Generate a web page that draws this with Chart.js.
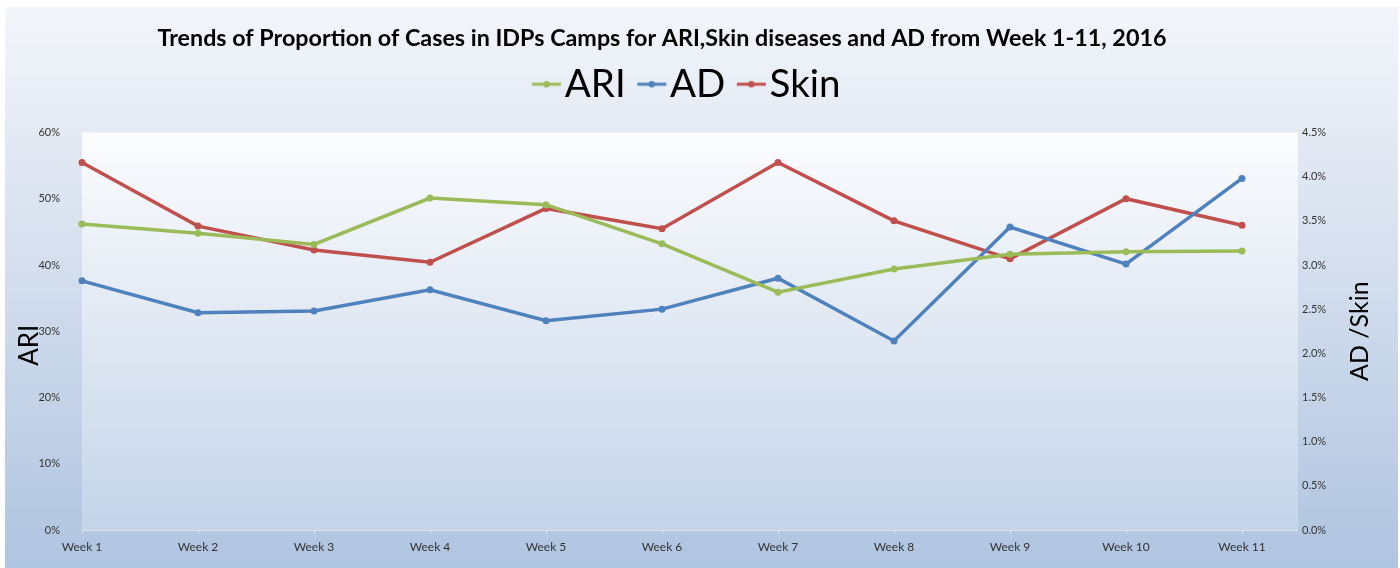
<!DOCTYPE html>
<html>
<head>
<meta charset="utf-8">
<script src="https://cdn.jsdelivr.net/npm/chart.js@4/dist/chart.umd.min.js"></script>
<style>
  html, body { margin: 0; padding: 0; background: #ffffff; }
  #wrap { width: 1400px; height: 568px; position: relative; }
</style>
</head>
<body>
<div id="wrap"><canvas id="c" width="1400" height="568"></canvas></div>
<script>
// ---- Data ----
const weeks = ['Week 1','Week 2','Week 3','Week 4','Week 5','Week 6','Week 7','Week 8','Week 9','Week 10','Week 11'];
const ariValues  = [46.2, 44.8, 43.1, 50.1, 49.1, 43.2, 35.9, 39.4, 41.6, 42.0, 42.1];   // % (left axis)
const adValues   = [2.82, 2.46, 2.48, 2.72, 2.37, 2.50, 2.85, 2.14, 3.43, 3.01, 3.98];   // % (right axis)
const skinValues = [4.16, 3.44, 3.17, 3.03, 3.64, 3.41, 4.16, 3.50, 3.07, 3.75, 3.45];   // % (right axis)
const seriesNames = ['ARI', 'AD', 'Skin'];
const leftTicks  = { min: 0, max: 60, step: 10 };
const rightTicks = { min: 0, max: 4.5, step: 0.5 };
const titleText = 'Trends of Proportion of Cases in IDPs Camps for ARI,Skin diseases and AD from Week 1-11, 2016';
const leftAxisTitle = 'ARI';
const rightAxisTitle = 'AD /Skin';

// ---- Styles ----
const COLORS = { ARI: '#9BBB59', AD: '#4F81BD', Skin: '#C0504D' };
const FONT = 'Lato, "Open Sans", sans-serif';
const PLOT_EXTRA = 56;

function markerImage(color) {
  const cv = document.createElement('canvas');
  cv.width = 48; cv.height = 10;
  const g = cv.getContext('2d');
  g.strokeStyle = color; g.lineWidth = 3;
  g.beginPath(); g.moveTo(18, 5); g.lineTo(47, 5); g.stroke();
  g.fillStyle = color;
  g.beginPath(); g.arc(32.5, 5, 3.2, 0, Math.PI * 2); g.fill();
  return cv;
}

const spacerPlugin = {
  id: 'spacer',
  beforeInit(chart) {
    const box = {
      position: 'top', weight: 1, fullSize: true, options: {},
      width: 0, height: 0, left: 0, top: 0, right: 0, bottom: 0,
      isHorizontal() { return true; },
      update(maxWidth) { this.width = maxWidth; this.height = 19; },
      draw() {}
    };
    Chart.layouts.addBox(chart, box);
  }
};

const bgPlugin = {
  id: 'bg',
  beforeDraw(chart) {
    const ctx = chart.ctx, a = chart.chartArea;
    ctx.save();
    ctx.fillStyle = '#ffffff';
    ctx.fillRect(0, 0, chart.width, chart.height);
    const g = ctx.createLinearGradient(0, 7, 0, chart.height);
    g.addColorStop(0, '#F3F5FA');
    g.addColorStop(0.45, '#D5DFEE');
    g.addColorStop(1, '#AFC4E0');
    ctx.fillStyle = g;
    ctx.fillRect(5, 7, 1393, chart.height - 7);
    const g2 = ctx.createLinearGradient(0, a.top, 0, a.bottom);
    g2.addColorStop(0, '#FBFCFE');
    g2.addColorStop(0.5, '#E0E8F3');
    g2.addColorStop(1, '#C4D4E9');
    ctx.fillStyle = g2;
    ctx.fillRect(a.left, a.top, a.right - a.left + PLOT_EXTRA, a.bottom - a.top + 1);
    ctx.strokeStyle = '#DDE5F0';
    ctx.lineWidth = 1;
    ctx.beginPath();
    ctx.moveTo(a.left, a.bottom + 0.5);
    ctx.lineTo(a.right + PLOT_EXTRA, a.bottom + 0.5);
    ctx.stroke();
    ctx.restore();
  },
  afterDraw(chart) {
    const ctx = chart.ctx, a = chart.chartArea;
    ctx.save();
    ctx.fillStyle = '#000000';
    ctx.textAlign = 'center';
    ctx.textBaseline = 'middle';
    ctx.font = '26px ' + FONT;
    ctx.translate(a.left - 52, (a.top + a.bottom) / 2 + 14);
    ctx.rotate(-Math.PI / 2);
    ctx.fillText(leftAxisTitle, 0, 0);
    ctx.restore();
    ctx.save();
    ctx.fillStyle = '#000000';
    ctx.textAlign = 'center';
    ctx.textBaseline = 'middle';
    ctx.font = '25px ' + FONT;
    ctx.translate(a.right + 118, (a.top + a.bottom) / 2);
    ctx.rotate(-Math.PI / 2);
    ctx.fillText(rightAxisTitle, 0, 0);
    ctx.restore();
  }
};

function ds(name, data, axis) {
  return {
    label: name, data: data, yAxisID: axis,
    borderColor: COLORS[name], backgroundColor: COLORS[name],
    pointBackgroundColor: COLORS[name], pointBorderColor: COLORS[name],
    borderWidth: 3.5, pointRadius: 3.5, pointBorderWidth: 0, tension: 0,
    pointStyle: 'circle'
  };
}

const chart = new Chart(document.getElementById('c'), {
  type: 'line',
  data: {
    labels: weeks,
    datasets: [
      ds(seriesNames[0], ariValues, 'y'),
      ds(seriesNames[1], adValues, 'y1'),
      ds(seriesNames[2], skinValues, 'y1')
    ]
  },
  options: {
    responsive: false,
    animation: false,
    devicePixelRatio: 1,
    layout: { padding: { left: 5, right: 34, top: 0, bottom: 0 } },
    plugins: {
      tooltip: { enabled: false },
      title: {
        display: true, text: titleText, color: '#000000', fullSize: false,
        font: { family: FONT, size: 23.3, weight: 'bold', lineHeight: 1.2 },
        padding: { top: 24, bottom: 3 }
      },
      legend: {
        display: true, position: 'top',
        labels: {
          color: '#000000',
          font: { family: FONT, size: 38.5 },
          usePointStyle: true, boxWidth: 15, padding: 10,
          generateLabels(chart) {
            return chart.data.datasets.map((d, i) => ({
              text: d.label, fillStyle: d.borderColor, strokeStyle: d.borderColor,
              lineWidth: 0, hidden: false, datasetIndex: i,
              pointStyle: markerImage(d.borderColor), fontColor: '#000000'
            }));
          }
        }
      }
    },
    scales: {
      x: {
        type: 'category', offset: false,
        grid: { drawOnChartArea: false, drawTicks: true, tickLength: 4, color: '#DDE5F0' },
        border: { display: false },
        ticks: { color: '#333333', font: { family: FONT, size: 12 }, padding: 6, maxRotation: 0, autoSkip: false },
        afterFit(s) { s.height = 38; }
      },
      y: {
        position: 'left', min: leftTicks.min, max: leftTicks.max,
        grid: { display: false }, border: { display: false },
        ticks: { stepSize: leftTicks.step, color: '#333333', font: { family: FONT, size: 11 }, padding: 14,
                 callback: v => v + '%' },
        afterFit(s) { s.width = 77; }
      },
      y1: {
        position: 'right', min: rightTicks.min, max: rightTicks.max,
        grid: { display: true, drawOnChartArea: false, drawTicks: true, tickLength: 56, color: 'rgba(0,0,0,0)' },
        border: { display: false },
        ticks: { stepSize: rightTicks.step, color: '#333333', font: { family: FONT, size: 11 }, padding: 4,
                 callback: v => v.toFixed(1) + '%' },
        afterFit(s) { s.width = 124; }
      }
    }
  },
  plugins: [spacerPlugin, bgPlugin]
});
</script>
</body>
</html>
